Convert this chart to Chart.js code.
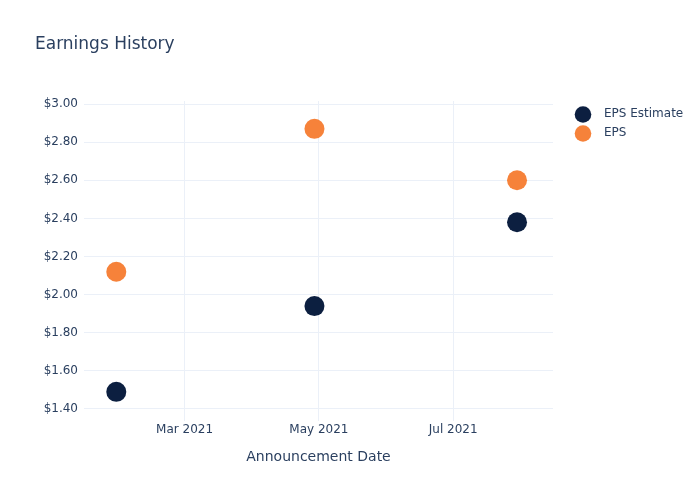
<!DOCTYPE html>
<html><head><meta charset="utf-8">
<script src="https://cdn.jsdelivr.net/npm/chart.js@4.4.0/dist/chart.umd.min.js"></script>
<style>html,body{margin:0;padding:0;background:#fff;} #c{display:block;}</style>
</head><body>
<canvas id="c" width="700" height="500"></canvas>
<script>
// ---- data ----
const announcementDates = ['2021-01-29', '2021-04-29', '2021-07-30'];
const epsEstimate = [1.49, 1.94, 2.38];
const epsActual = [2.12, 2.87, 2.60];
const seriesNames = ['EPS Estimate', 'EPS'];
const xTickDates = ['2021-03-01', '2021-05-01', '2021-07-01'];
const xTickLabels = ['Mar 2021', 'May 2021', 'Jul 2021'];
const yTickValues = [1.4, 1.6, 1.8, 2.0, 2.2, 2.4, 2.6, 2.8, 3.0];
const xRange = ['2021-01-14T08:00:00Z', '2021-08-15T08:00:00Z'];
const yRange = [1.337, 3.016];
const chartTitle = 'Earnings History';
const xAxisTitle = 'Announcement Date';

// ---- styling ----
const NAVY = '#0c1f40';
const ORANGE = '#f6823a';
const TEXT = '#2a3f5f';
const GRID = '#ebf0f8';
const FONT = 'DejaVu Sans';
const LEGEND_W = 147;

Chart.defaults.font.family = FONT;
Chart.defaults.color = TEXT;

const toPoints = (vals) => vals.map((v, i) => ({x: Date.parse(announcementDates[i]), y: v}));

function dotImage(color) {
  const c = document.createElement('canvas');
  c.width = 38; c.height = 18;
  const g = c.getContext('2d');
  g.fillStyle = color;
  g.beginPath();
  g.arc(23, 9.5, 8.3, 0, Math.PI * 2);
  g.fill();
  return c;
}

const legendWidthPlugin = {
  id: 'legendWidth',
  afterInit(chart) {
    const lg = chart.legend;
    if (!lg) return;
    const fit = lg.fit.bind(lg);
    lg.fit = function () { fit(); this.width = LEGEND_W; };
  }
};

new Chart(document.getElementById('c'), {
  type: 'scatter',
  data: {
    datasets: [
      {label: seriesNames[0], data: toPoints(epsEstimate), backgroundColor: NAVY, borderColor: NAVY,
       pointRadius: 10, pointHoverRadius: 10, borderWidth: 0},
      {label: seriesNames[1], data: toPoints(epsActual), backgroundColor: ORANGE, borderColor: ORANGE,
       pointRadius: 10, pointHoverRadius: 10, borderWidth: 0}
    ]
  },
  plugins: [legendWidthPlugin],
  options: {
    responsive: false,
    animation: false,
    devicePixelRatio: 1,
    layout: {padding: {left: 35, right: 0, top: 0, bottom: 0}},
    plugins: {
      title: {
        display: true, text: chartTitle, align: 'start',
        font: {size: 17, weight: 'normal', family: FONT}, color: TEXT,
        padding: {top: 34.5, bottom: 46.1}
      },
      legend: {
        position: 'right', align: 'start', fullSize: false,
        labels: {
          usePointStyle: true, pointStyleWidth: 38, padding: 7,
          font: {size: 12, family: FONT}, color: TEXT,
          generateLabels(chart) {
            const items = Chart.defaults.plugins.legend.labels.generateLabels(chart);
            items.forEach(it => { it.pointStyle = dotImage(it.fillStyle); });
            return items;
          }
        }
      },
      tooltip: {enabled: false}
    },
    scales: {
      x: {
        type: 'linear',
        min: Date.parse(xRange[0]), max: Date.parse(xRange[1]),
        afterBuildTicks(axis) { axis.ticks = xTickDates.map(d => ({value: Date.parse(d)})); },
        afterFit(axis) { axis.height = 79; },
        ticks: {
          padding: 2, font: {size: 12, family: FONT}, color: TEXT, maxRotation: 0, autoSkip: false,
          callback(value) {
            const i = xTickDates.findIndex(d => Date.parse(d) === value);
            return i >= 0 ? xTickLabels[i] : '';
          }
        },
        grid: {color: GRID, lineWidth: 1, drawTicks: false},
        border: {display: false},
        title: {display: true, text: xAxisTitle, font: {size: 14, family: FONT}, color: TEXT,
                padding: {top: 0, bottom: 34}}
      },
      y: {
        min: yRange[0], max: yRange[1],
        afterBuildTicks(axis) { axis.ticks = yTickValues.map(v => ({value: v})); },
        afterFit(axis) { axis.width = 49; },
        ticks: {
          padding: 6, font: {size: 12, family: FONT}, color: TEXT, autoSkip: false,
          callback(value) { return '$' + Number(value).toFixed(2); }
        },
        grid: {color: GRID, lineWidth: 1, drawTicks: false},
        border: {display: false}
      }
    }
  }
});
</script>
</body></html>
